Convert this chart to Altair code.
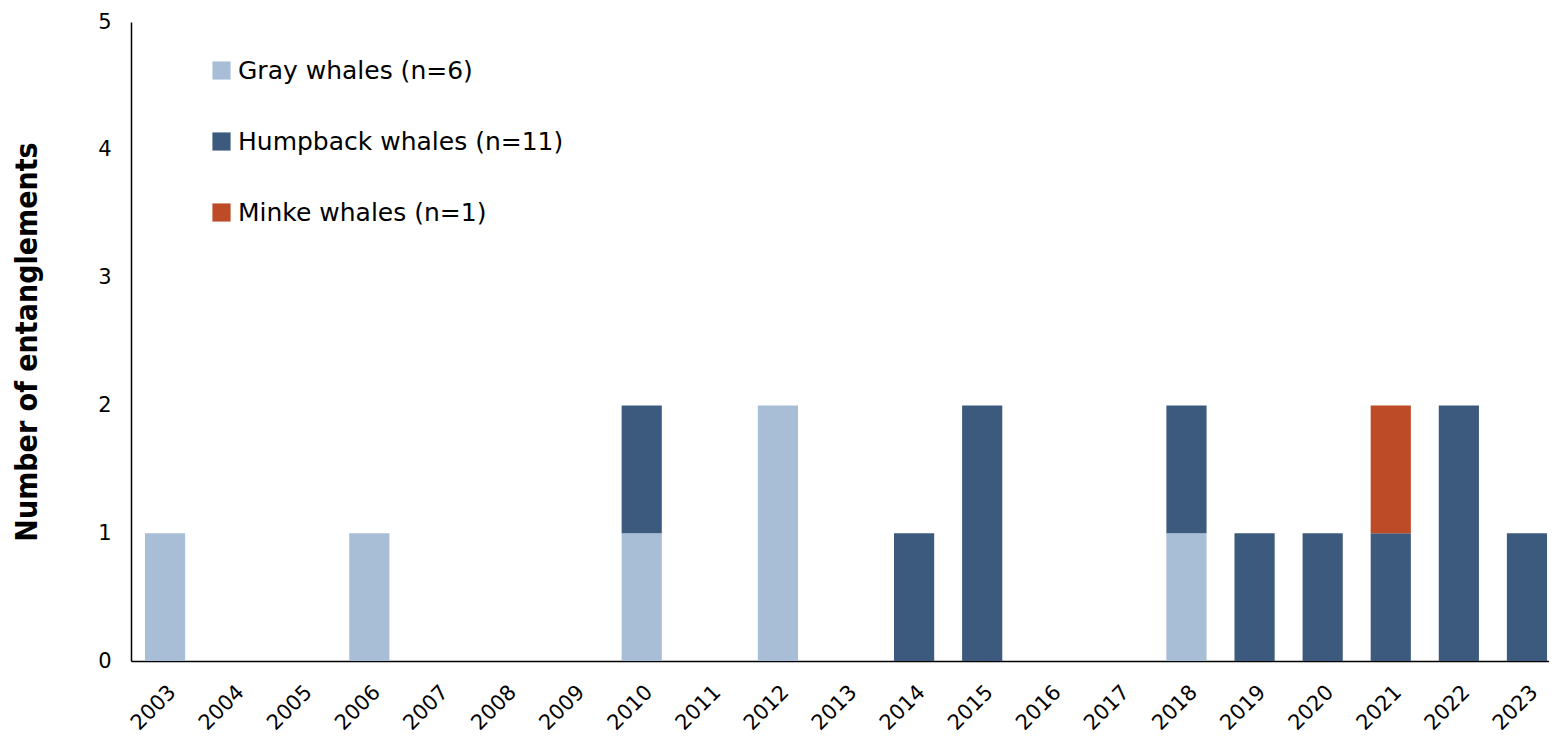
import altair as alt
import pandas as pd

years = [str(y) for y in range(2003, 2024)]
species = ["Gray whales (n=6)", "Humpback whales (n=11)", "Minke whales (n=1)"]
gray = [1, 0, 0, 1, 0, 0, 0, 1, 0, 2, 0, 0, 0, 0, 0, 1, 0, 0, 0, 0, 0]
humpback = [0, 0, 0, 0, 0, 0, 0, 1, 0, 0, 0, 1, 2, 0, 0, 1, 1, 1, 1, 2, 1]
minke = [0, 0, 0, 0, 0, 0, 0, 0, 0, 0, 0, 0, 0, 0, 0, 0, 0, 0, 1, 0, 0]
colors = ["#A8BDD6", "#3C5A7E", "#BE4B28"]

rows = []
for i, y in enumerate(years):
    for k, (name, vals) in enumerate(zip(species, [gray, humpback, minke])):
        rows.append({"Year": y, "Species": name, "Count": vals[i], "ord": k})
df = pd.DataFrame(rows)

chart = alt.Chart(df).mark_bar().encode(
    x=alt.X("Year:N", sort=years, title=None,
            scale=alt.Scale(paddingInner=0.41, paddingOuter=0.205, range=[0, 1430], round=False),
            axis=alt.Axis(labelAngle=-45, labelFont="DejaVu Sans", labelFontSize=21,
                          labelColor="black", ticks=False, domainColor="black",
                          domainWidth=1.5, labelPadding=20)),
    y=alt.Y("Count:Q", stack="zero", title="Number of entanglements",
            scale=alt.Scale(domain=[0, 5]),
            axis=alt.Axis(values=[0, 1, 2, 3, 4, 5], grid=False, ticks=False,
                          labelFont="DejaVu Sans", labelFontSize=21, labelColor="black",
                          labelPadding=20, domainColor="black", domainWidth=1.5,
                          titleFont="DejaVu Sans Condensed, Liberation Sans", titleFontSize=30,
                          titleFontWeight="bold", titleColor="black", titlePadding=55)),
    color=alt.Color("Species:N", sort=species,
                    scale=alt.Scale(domain=species, range=colors),
                    legend=alt.Legend(title=None, orient="none", legendX=78, legendY=36,
                                      symbolType="square", symbolSize=330,
                                      symbolStrokeWidth=0, labelFont="DejaVu Sans",
                                      labelFontSize=25, labelColor="black",
                                      rowPadding=45, labelOffset=4, labelLimit=600)),
    order=alt.Order("ord:Q"),
).properties(
    width=1418, height=639,
    padding={"left": 123, "top": 14, "right": 0, "bottom": 88},
    autosize=alt.AutoSizeParams(type="none"),
).configure(background="white").configure_view(stroke=None)

chart.save("out.html", embed_options={"renderer": "svg", "actions": False})
